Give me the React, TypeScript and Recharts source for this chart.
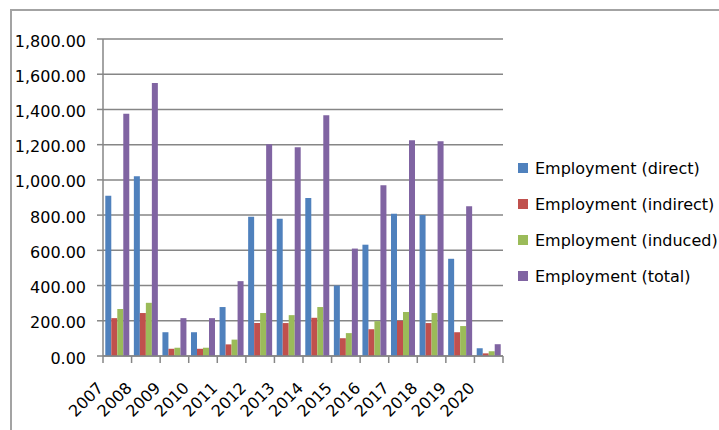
import React from "react";
import { BarChart, Bar, XAxis, YAxis, CartesianGrid, Legend } from "recharts";

const years = ["2007", "2008", "2009", "2010", "2011", "2012", "2013", "2014", "2015", "2016", "2017", "2018", "2019", "2020"];
const direct = [910, 1020, 135, 135, 278, 790, 780, 897, 400, 632, 808, 800, 552, 44];
const indirect = [215, 244, 41, 41, 66, 187, 187, 217, 101, 152, 200, 187, 135, 15];
const induced = [267, 302, 47, 47, 93, 244, 232, 278, 130, 198, 250, 244, 170, 27];
const total = [1375, 1550, 215, 215, 425, 1202, 1185, 1367, 610, 969, 1225, 1220, 850, 67];
const yTicks = [0, 200, 400, 600, 800, 1000, 1200, 1400, 1600, 1800];

const seriesNames = ["Employment (direct)", "Employment (indirect)", "Employment (induced)", "Employment (total)"];
const seriesColors = ["#4F81BD", "#C0504D", "#9BBB59", "#8064A2"];

const data = years.map((year, i) => ({
  year,
  direct: direct[i],
  indirect: indirect[i],
  induced: induced[i],
  total: total[i],
}));

const FONT = "'DejaVu Sans', sans-serif";
const AXIS_GRAY = "#868686";
const TEXT = "#000";

const numberFmt = new Intl.NumberFormat("en-US", { minimumFractionDigits: 2, maximumFractionDigits: 2 });

function ValueTick(props: any) {
  const { x, y, payload } = props;
  return (
    <text x={x} y={y} dy={7.5} textAnchor="end" fontFamily={FONT} fontSize={16} fill={TEXT}>
      {numberFmt.format(payload.value)}
    </text>
  );
}

function YearTick(props: any) {
  const { x, y, payload, index, visibleTicksCount } = props;
  const half = typeof payload.offset === "number" && payload.offset > 0 ? payload.offset : 400 / years.length / 2;
  const isLast = index === (visibleTicksCount ?? years.length) - 1;
  const tx = x - 13;
  const ty = y + 33;
  return (
    <g>
      <line x1={x - half} x2={x - half} y1={y} y2={y + 7} stroke={AXIS_GRAY} strokeWidth={1.5} />
      {isLast && <line x1={x + half} x2={x + half} y1={y} y2={y + 7} stroke={AXIS_GRAY} strokeWidth={1.5} />}
      <text
        x={tx}
        y={ty}
        textAnchor="end"
        transform={`rotate(-45, ${tx}, ${ty})`}
        fontFamily={FONT}
        fontSize={16}
        fill={TEXT}
      >
        {payload.value}
      </text>
    </g>
  );
}

function LegendContent() {
  return (
    <div style={{ fontFamily: FONT, fontSize: 16, color: TEXT }}>
      {seriesNames.map((name, i) => (
        <div key={name} style={{ height: 36, display: "flex", alignItems: "center", whiteSpace: "nowrap" }}>
          <span style={{ width: 10, height: 10, background: seriesColors[i], display: "inline-block", marginRight: 7 }} />
          <span>{name}</span>
        </div>
      ))}
    </div>
  );
}

export default function App() {
  return (
    <div style={{ position: "absolute", left: 0, top: 0, width: 719, height: 430, overflow: "hidden", background: "#fff" }}>
      <div
        style={{
          position: "absolute",
          left: 10,
          top: 9,
          width: 709,
          height: 421,
          boxSizing: "border-box",
          borderLeft: "2px solid #a3a3a3",
          borderTop: "2px solid #a3a3a3",
        }}
      />
      <div style={{ position: "absolute", left: 0, top: 0 }}>
        <BarChart
          width={719}
          height={430}
          data={data}
          margin={{ top: 39, right: 216, bottom: 0, left: 0 }}
          barGap={0}
          barCategoryGap="8%"
        >
          <CartesianGrid vertical={false} stroke={AXIS_GRAY} strokeWidth={1.5} />
          <XAxis
            dataKey="year"
            height={74}
            interval={0}
            axisLine={{ stroke: AXIS_GRAY, strokeWidth: 1.5 }}
            tickLine={false}
            tickSize={0}
            tickMargin={0}
            tick={<YearTick />}
          />
          <YAxis
            width={103}
            domain={[0, 1800]}
            ticks={yTicks}
            interval={0}
            axisLine={{ stroke: AXIS_GRAY, strokeWidth: 1.5 }}
            tickLine={{ stroke: AXIS_GRAY, strokeWidth: 1.5 }}
            tickSize={6}
            tickMargin={11}
            tick={<ValueTick />}
          />
          <Legend
            layout="vertical"
            align="center"
            verticalAlign="middle"
            content={<LegendContent />}
            wrapperStyle={{ left: 518, top: 150, width: 200 }}
          />
          <Bar dataKey="direct" name={seriesNames[0]} fill={seriesColors[0]} isAnimationActive={false} />
          <Bar dataKey="indirect" name={seriesNames[1]} fill={seriesColors[1]} isAnimationActive={false} />
          <Bar dataKey="induced" name={seriesNames[2]} fill={seriesColors[2]} isAnimationActive={false} />
          <Bar dataKey="total" name={seriesNames[3]} fill={seriesColors[3]} isAnimationActive={false} />
        </BarChart>
      </div>
    </div>
  );
}
